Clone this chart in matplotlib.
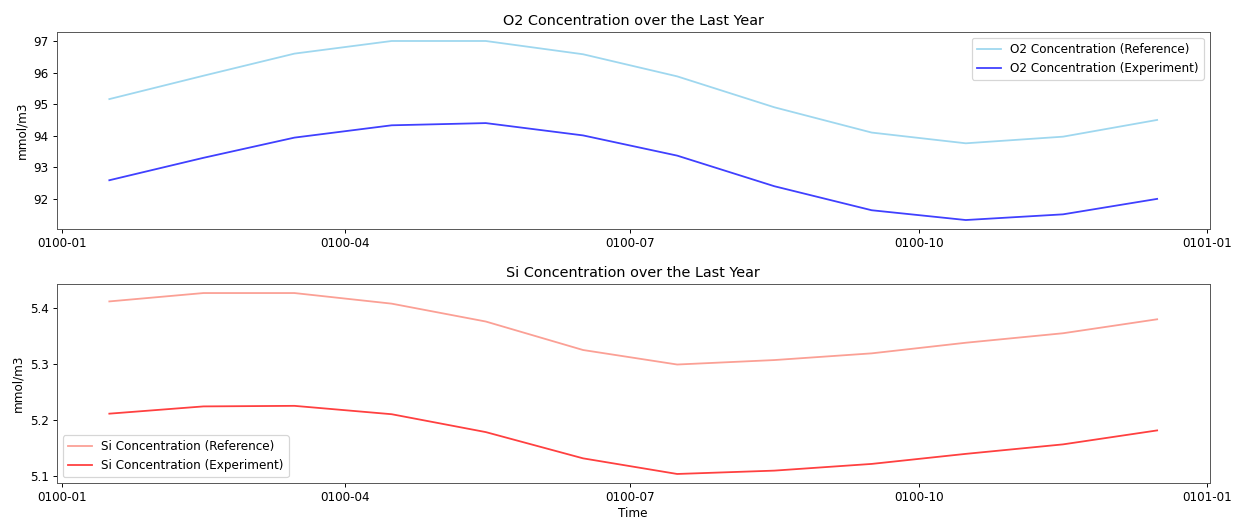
import datetime as dt
import matplotlib
matplotlib.use("Agg")
import matplotlib.pyplot as plt
import matplotlib.dates as mdates
from matplotlib.ticker import FuncFormatter, MultipleLocator

# monthly means, year 0100 (mid-month time stamps)
months = [1, 2, 3, 4, 5, 6, 7, 8, 9, 10, 11, 12]
days = [16, 15, 16, 16, 16, 16, 16, 16, 16, 16, 16, 16]
times = [dt.datetime(100, m, d) for m, d in zip(months, days)]

o2_ref = [95.16, 95.90, 96.60, 97.00, 97.00, 96.58, 95.88, 94.90, 94.10, 93.76, 93.97, 94.50]
o2_exp = [92.59, 93.30, 93.94, 94.33, 94.40, 94.01, 93.37, 92.40, 91.64, 91.33, 91.51, 92.00]
si_ref = [5.412, 5.427, 5.427, 5.408, 5.376, 5.325, 5.299, 5.307, 5.319, 5.338, 5.355, 5.380]
si_exp = [5.211, 5.224, 5.225, 5.210, 5.178, 5.131, 5.103, 5.109, 5.121, 5.139, 5.156, 5.181]

dpi = 86.4
fig = plt.figure(figsize=(1238 / dpi, 521 / dpi), dpi=dpi)
ax1 = fig.add_axes([0.046, 0.5605, 0.931, 0.378])
ax2 = fig.add_axes([0.046, 0.0729, 0.931, 0.382])


def fmt_date(x, pos=None):
    d = mdates.num2date(x)
    return f"{d.year:04d}-{d.month:02d}"


ax1.plot(times, o2_ref, color="skyblue", alpha=0.8, label="O2 Concentration (Reference)")
ax1.plot(times, o2_exp, color="blue", alpha=0.75, label="O2 Concentration (Experiment)")
ax1.set_title("O2 Concentration over the Last Year")
ax1.set_ylabel("mmol/m3")
ax1.legend(loc="upper right")

ax2.plot(times, si_ref, color="salmon", alpha=0.75, label="Si Concentration (Reference)")
ax2.plot(times, si_exp, color="red", alpha=0.75, label="Si Concentration (Experiment)")
ax2.set_title("Si Concentration over the Last Year")
ax2.set_ylabel("mmol/m3")
ax2.set_xlabel("Time", labelpad=2)
ax2.yaxis.set_major_locator(MultipleLocator(0.1))
ax2.legend(loc="lower left")

for ax in (ax1, ax2):
    ax.xaxis.set_major_locator(mdates.MonthLocator(bymonth=[1, 4, 7, 10]))
    ax.xaxis.set_major_formatter(FuncFormatter(fmt_date))
    for s in ax.spines.values():
        s.set_color("#555555")

fig.savefig("out.png", dpi=dpi)
